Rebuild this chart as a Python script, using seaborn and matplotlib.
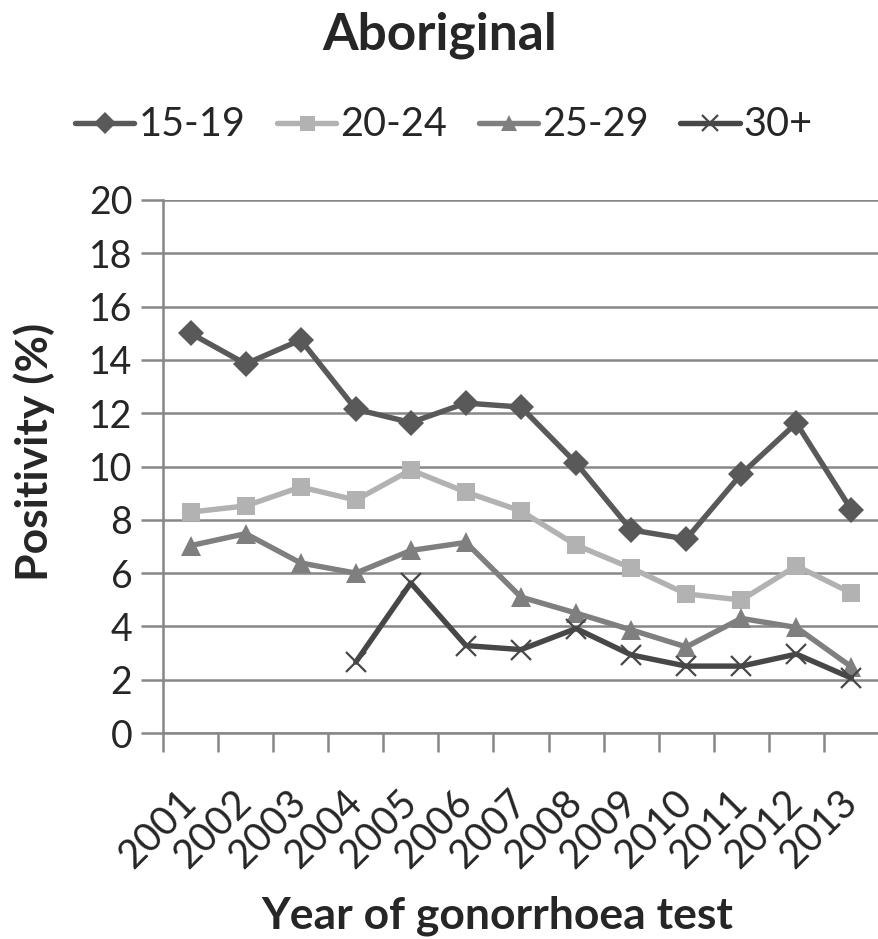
import matplotlib
matplotlib.use("Agg")
import matplotlib.pyplot as plt
import matplotlib.transforms as mtransforms
import seaborn as sns
import numpy as np
import pandas as pd
from matplotlib.ticker import MultipleLocator, FixedLocator

years = list(range(2001, 2014))
age_groups = ["15-19", "20-24", "25-29", "30+"]
pos_15_19 = [15.0, 13.85, 14.75, 12.15, 11.65, 12.38, 12.23, 10.13, 7.62, 7.28, 9.72, 11.63, 8.37]
pos_20_24 = [8.29, 8.52, 9.23, 8.74, 9.87, 9.04, 8.33, 7.05, 6.19, 5.22, 4.99, 6.27, 5.25]
pos_25_29 = [7.03, 7.48, 6.38, 6.0, 6.85, 7.15, 5.1, 4.5, 3.87, 3.23, 4.3, 3.96, 2.48]
pos_30_plus = [np.nan, np.nan, np.nan, 2.66, 5.63, 3.28, 3.13, 3.92, 2.93, 2.51, 2.51, 2.96, 2.06]

series = {"15-19": pos_15_19, "20-24": pos_20_24, "25-29": pos_25_29, "30+": pos_30_plus}
colors = {"15-19": "#595959", "20-24": "#b2b2b2", "25-29": "#7f7f7f", "30+": "#474747"}
markers = {"15-19": "D", "20-24": "s", "25-29": "^", "30+": "x"}

rows = []
for g in age_groups:
    for y, v in zip(years, series[g]):
        rows.append({"Year": y, "Group": g, "Positivity": v})
df = pd.DataFrame(rows).dropna()

sns.set_style("white")
plt.rcParams['font.family'] = ['Lato', 'DejaVu Sans']

fig = plt.figure(figsize=(8.79, 9.39), dpi=100)
ax = fig.add_axes([163/879, 1-733/939, 1-163/879, (733-200)/939])

for g in age_groups:
    sub = df[df.Group == g]
    ms = {"D": 13.5, "s": 13.5, "^": 14.5, "x": 14}[markers[g]]
    sns.lineplot(data=sub, x="Year", y="Positivity", ax=ax, color=colors[g],
                 marker=markers[g], markersize=ms, linewidth=3.9,
                 markeredgecolor=colors[g], markeredgewidth=1.6 if g == "30+" else 0,
                 label=g, zorder=3)

ax.set_xlim(2000.5, 2013.5)
ax.set_ylim(0, 20)
ax.yaxis.set_major_locator(MultipleLocator(2))
ax.xaxis.set_major_locator(FixedLocator(years))
ax.xaxis.set_minor_locator(FixedLocator([y + 0.5 for y in range(2000, 2014)]))
ax.grid(axis="y", color="#878787", linewidth=1.8)
ax.set_axisbelow(True)

for s in ["top", "right"]:
    ax.spines[s].set_visible(False)
for s in ["left", "bottom"]:
    ax.spines[s].set_color("#878787")
    ax.spines[s].set_linewidth(1.8)

ax.tick_params(axis="y", which="major", length=16, width=1.8, color="#878787",
               labelsize=27, pad=6, left=True)
ax.tick_params(axis="x", which="major", length=0, labelsize=28.5, pad=46)
ax.tick_params(axis="x", which="minor", length=14, width=1.8, color="#878787", bottom=True)
ax.set_xticklabels([str(y) for y in years], rotation=45, ha="right", va="center",
                   rotation_mode="anchor")
for lab in ax.get_xticklabels():
    lab.set_transform(lab.get_transform() + mtransforms.ScaledTranslation(0.0, 0, fig.dpi_scale_trans))

ax.set_xlabel("Year of gonorrhoea test", fontsize=32, fontweight="bold")
ax.xaxis.set_label_coords((497-163)/716, (733-895)/533)
ax.set_ylabel("Positivity (%)", fontsize=32, fontweight="bold")
ax.yaxis.set_label_coords((55-163)/716, (733-452)/533)

fig.suptitle("Aboriginal", fontsize=37, fontweight="bold", y=0.988)

leg = ax.legend(loc="center", bbox_to_anchor=(444/879, 1-125/939), bbox_transform=fig.transFigure,
                ncol=4, frameon=False, fontsize=28.5, handlelength=1.5, handletextpad=0.1,
                columnspacing=0.8, markerscale=0.8)

fig.savefig("out.png", dpi=100)
